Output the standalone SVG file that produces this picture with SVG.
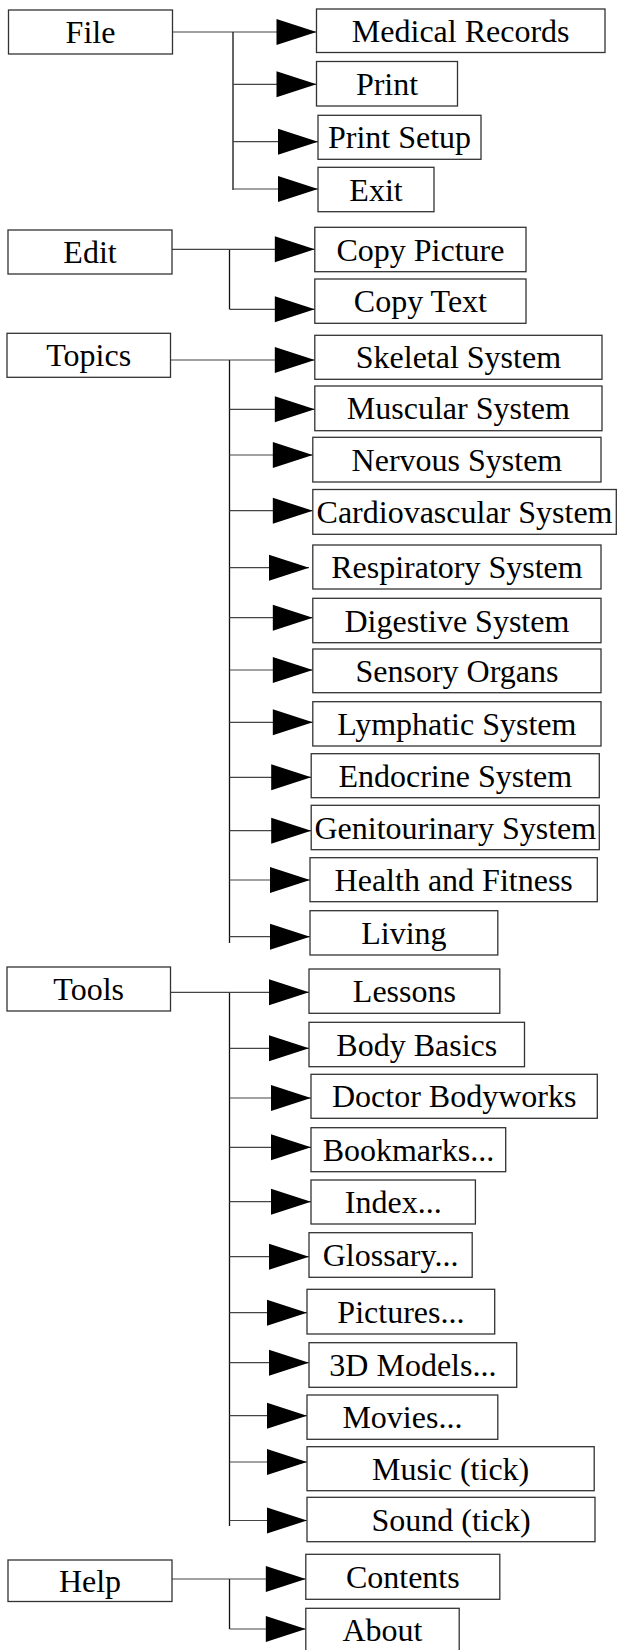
<svg xmlns="http://www.w3.org/2000/svg" width="617" height="1650" viewBox="0 0 617 1650">
  <defs>
    <marker id="head" markerUnits="userSpaceOnUse" markerWidth="40" markerHeight="26" refX="40" refY="13" orient="auto" overflow="visible">
      <path d="M0,0 L40,13 L0,26 Z" fill="#000"/>
    </marker>
    <style>
      .box { fill: #fff; stroke: #333; stroke-width: 1.3; }
      .lbl { font-family: "Liberation Serif", "Times New Roman", serif; font-size: 32px; fill: #000; text-anchor: middle; }
      .wire { fill: none; stroke: #444; stroke-width: 1.2; }
      .trunk { fill: none; stroke: #111; stroke-width: 1.3; }
      .branch { fill: none; stroke: #444; stroke-width: 1.2; marker-end: url(#head); }
    </style>
  </defs>
  <rect width="617" height="1650" fill="#fff"/>

  <!-- connectors -->
  <g id="connectors">
    <!-- File -->
    <path class="wire" d="M172.5,32 H233"/>
    <path class="trunk" d="M233,32 V190"/>
    <path class="branch" d="M233,32 H316.5"/>
    <path class="branch" d="M233,84.3 H316.5"/>
    <path class="branch" d="M233,141.7 H318"/>
    <path class="branch" d="M233,189 H318"/>
    <!-- Edit -->
    <path class="wire" d="M172,249.3 H229.5"/>
    <path class="trunk" d="M229.5,249.3 V309.3"/>
    <path class="branch" d="M229.5,249.3 H314.8"/>
    <path class="branch" d="M229.5,309.3 H314.8"/>
    <!-- Topics -->
    <path class="wire" d="M170.5,360 H229.5"/>
    <path class="trunk" d="M229.5,360 V943"/>
    <path class="branch" d="M229.5,360 H314.8"/>
    <path class="branch" d="M229.5,409.3 H314.8"/>
    <path class="branch" d="M229.5,455 H312.8"/>
    <path class="branch" d="M229.5,510.7 H312.8"/>
    <path class="branch" d="M229.5,567.7 H309"/>
    <path class="branch" d="M229.5,617.7 H312.8"/>
    <path class="branch" d="M229.5,670 H312.8"/>
    <path class="branch" d="M229.5,722.3 H312.8"/>
    <path class="branch" d="M229.5,777.3 H311.2"/>
    <path class="branch" d="M229.5,830.7 H311.2"/>
    <path class="branch" d="M229.5,880 H310"/>
    <path class="branch" d="M229.5,936.7 H310"/>
    <!-- Tools -->
    <path class="wire" d="M170.5,992.3 H229.5"/>
    <path class="trunk" d="M229.5,992.3 V1526"/>
    <path class="branch" d="M229.5,992.3 H309"/>
    <path class="branch" d="M229.5,1048.3 H309"/>
    <path class="branch" d="M229.5,1098 H311"/>
    <path class="branch" d="M229.5,1147.3 H311"/>
    <path class="branch" d="M229.5,1201.7 H311"/>
    <path class="branch" d="M229.5,1256.7 H309"/>
    <path class="branch" d="M229.5,1312.7 H307"/>
    <path class="branch" d="M229.5,1362.7 H309"/>
    <path class="branch" d="M229.5,1415.7 H307"/>
    <path class="branch" d="M229.5,1462 H307"/>
    <path class="branch" d="M229.5,1520.5 H307"/>
    <!-- Help -->
    <path class="wire" d="M172,1579 H229.5"/>
    <path class="trunk" d="M229.5,1579 V1629"/>
    <path class="branch" d="M229.5,1579 H305.8"/>
    <path class="branch" d="M229.5,1629 H305.8"/>
  </g>

  <!-- top-level menus -->
  <g id="file"><rect class="box" x="8.5" y="10" width="164" height="44"/><text class="lbl" x="90.5" y="43">File</text></g>
  <g id="edit"><rect class="box" x="8" y="230" width="164" height="44"/><text class="lbl" x="90" y="263">Edit</text></g>
  <g id="topics"><rect class="box" x="7" y="333.3" width="163.5" height="44"/><text class="lbl" x="88.7" y="366.3">Topics</text></g>
  <g id="tools"><rect class="box" x="7" y="967" width="163.5" height="44"/><text class="lbl" x="88.7" y="1000">Tools</text></g>
  <g id="help"><rect class="box" x="8" y="1560" width="164" height="41.5"/><text class="lbl" x="90" y="1592">Help</text></g>

  <!-- File items -->
  <g id="medical-records"><rect class="box" x="316.5" y="9" width="288.5" height="43.5"/><text class="lbl" x="460.7" y="41.8">Medical Records</text></g>
  <g id="print"><rect class="box" x="316.5" y="61.5" width="141" height="44.5"/><text class="lbl" x="387" y="94.8">Print</text></g>
  <g id="print-setup"><rect class="box" x="318" y="115.3" width="163" height="44"/><text class="lbl" x="399.5" y="148.3">Print Setup</text></g>
  <g id="exit"><rect class="box" x="318" y="167.3" width="116" height="44.4"/><text class="lbl" x="376" y="200.5">Exit</text></g>

  <!-- Edit items -->
  <g id="copy-picture"><rect class="box" x="314.8" y="227.3" width="211.2" height="44.4"/><text class="lbl" x="420.4" y="260.5">Copy Picture</text></g>
  <g id="copy-text"><rect class="box" x="314.8" y="279" width="211.2" height="44.3"/><text class="lbl" x="420.4" y="312.2">Copy Text</text></g>

  <!-- Topics items -->
  <g id="skeletal"><rect class="box" x="314.8" y="335.3" width="287.2" height="44"/><text class="lbl" x="458.4" y="368.3">Skeletal System</text></g>
  <g id="muscular"><rect class="box" x="314.8" y="386" width="287.2" height="44.7"/><text class="lbl" x="458.4" y="419.4">Muscular System</text></g>
  <g id="nervous"><rect class="box" x="312.8" y="437.3" width="288.2" height="44.7"/><text class="lbl" x="456.9" y="470.7">Nervous System</text></g>
  <g id="cardiovascular"><rect class="box" x="312.8" y="489.5" width="303.5" height="44.8"/><text class="lbl" x="464.5" y="523">Cardiovascular System</text></g>
  <g id="respiratory"><rect class="box" x="312.8" y="545" width="288.2" height="44"/><text class="lbl" x="456.9" y="578">Respiratory System</text></g>
  <g id="digestive"><rect class="box" x="312.8" y="598.3" width="288.2" height="44.4"/><text class="lbl" x="456.9" y="631.5">Digestive System</text></g>
  <g id="sensory"><rect class="box" x="312.8" y="649" width="288.2" height="43.7"/><text class="lbl" x="456.9" y="681.8">Sensory Organs</text></g>
  <g id="lymphatic"><rect class="box" x="312.8" y="701.7" width="288.2" height="44.3"/><text class="lbl" x="456.9" y="734.9">Lymphatic System</text></g>
  <g id="endocrine"><rect class="box" x="311.2" y="753.7" width="288.1" height="44"/><text class="lbl" x="455.3" y="786.7">Endocrine System</text></g>
  <g id="genitourinary"><rect class="box" x="311.2" y="805.3" width="288.1" height="44.4"/><text class="lbl" x="455.3" y="838.5">Genitourinary System</text></g>
  <g id="health-fitness"><rect class="box" x="310" y="857.7" width="287.3" height="44"/><text class="lbl" x="453.7" y="890.7">Health and Fitness</text></g>
  <g id="living"><rect class="box" x="310" y="910.7" width="187.8" height="44.3"/><text class="lbl" x="403.9" y="943.9">Living</text></g>

  <!-- Tools items -->
  <g id="lessons"><rect class="box" x="309" y="969" width="190.8" height="44.3"/><text class="lbl" x="404.4" y="1002.2">Lessons</text></g>
  <g id="body-basics"><rect class="box" x="309" y="1022.3" width="215.5" height="44.4"/><text class="lbl" x="416.8" y="1055.5">Body Basics</text></g>
  <g id="doctor-bodyworks"><rect class="box" x="311" y="1074.3" width="286.3" height="44"/><text class="lbl" x="454.2" y="1107.3">Doctor Bodyworks</text></g>
  <g id="bookmarks"><rect class="box" x="311" y="1127.7" width="194.7" height="44"/><text class="lbl" x="408.4" y="1160.7">Bookmarks...</text></g>
  <g id="index"><rect class="box" x="311" y="1180" width="164.4" height="44"/><text class="lbl" x="393.2" y="1213">Index...</text></g>
  <g id="glossary"><rect class="box" x="309" y="1232.7" width="163.2" height="44.6"/><text class="lbl" x="390.6" y="1266">Glossary...</text></g>
  <g id="pictures"><rect class="box" x="307" y="1289.3" width="187.7" height="44.7"/><text class="lbl" x="400.9" y="1322.7">Pictures...</text></g>
  <g id="models-3d"><rect class="box" x="309" y="1342.7" width="207.7" height="44.6"/><text class="lbl" x="412.9" y="1376">3D Models...</text></g>
  <g id="movies"><rect class="box" x="307" y="1395" width="190.8" height="44.3"/><text class="lbl" x="402.4" y="1428.2">Movies...</text></g>
  <g id="music"><rect class="box" x="307" y="1446.7" width="287.2" height="44"/><text class="lbl" x="450.6" y="1479.7">Music (tick)</text></g>
  <g id="sound"><rect class="box" x="307" y="1497.3" width="288" height="44.4"/><text class="lbl" x="451" y="1530.5">Sound (tick)</text></g>

  <!-- Help items -->
  <g id="contents"><rect class="box" x="305.8" y="1554.3" width="194" height="45"/><text class="lbl" x="402.8" y="1587.8">Contents</text></g>
  <g id="about"><rect class="box" x="305.8" y="1608.3" width="153.4" height="44"/><text class="lbl" x="382.5" y="1641.3">About</text></g>
</svg>
